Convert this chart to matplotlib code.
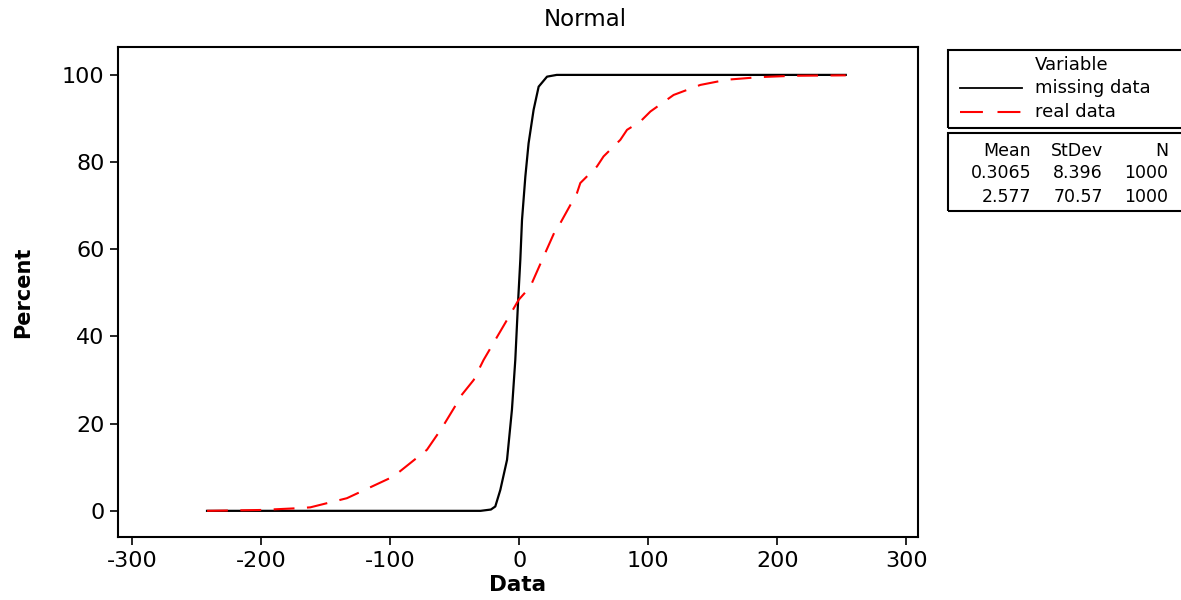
import matplotlib
matplotlib.use("Agg")
import matplotlib.pyplot as plt
from matplotlib.patches import Rectangle
from matplotlib.lines import Line2D

plt.rcParams["axes.unicode_minus"] = False

miss_x = [-242, -30, -22, -18.6, -14.7, -9.5, -5.7, -3.1, -1.0, 0.8, 2.1, 4.7,
          7.2, 11.1, 15.0, 21.5, 29.0, 60.0, 253]
miss_p = [0, 0, 0.3, 1.0, 4.8, 11.7, 23.2, 34.6, 47.6, 57.6, 66.7, 76.7,
          84.3, 92.0, 97.3, 99.6, 100, 100, 100]

real_x = [-242, -200, -172, -162, -133.6, -97.4, -71.6, -60.0, -48.3, -45.7,
          -35.4, -27.7, -9.5, -0.5, 8.5, 18.8, 29.2, 31.8, 44.7, 47.3, 60.2,
          65.3, 78.3, 83.5, 93.8, 101.6, 119.6, 140.3, 161, 186.8, 212.6, 253]
real_p = [0, 0.2, 0.6, 0.8, 2.9, 7.9, 14.0, 19.0, 24.7, 26.2,
          30.0, 34.6, 43.8, 48.4, 51.4, 58.3, 65.2, 66.0, 72.9, 75.2, 79.0,
          81.3, 85.1, 87.4, 89.3, 91.6, 95.4, 97.7, 98.9, 99.5, 99.8, 99.9]

series_names = ["missing data", "real data"]
stat_headers = ["Mean", "StDev", "N"]
stat_rows = [["0.3065", "8.396", "1000"], ["2.577", "70.57", "1000"]]
x_ticks = [-300, -200, -100, 0, 100, 200, 300]
y_ticks = [0, 20, 40, 60, 80, 100]

W, H = 1181, 600
fig = plt.figure(figsize=(W / 100, H / 100), dpi=100)
ax = fig.add_axes([118 / W, 1 - 537 / H, 800 / W, 490 / H])

ax.plot(real_x, real_p, color="#ff0000", lw=1.5, dashes=(10, 6), zorder=3)
ax.plot(miss_x, miss_p, color="black", lw=1.6, zorder=2)

ax.set_xlim(-311, 309)
ax.set_ylim(-6, 106.4)
ax.set_xticks(x_ticks)
ax.set_yticks(y_ticks)
ax.tick_params(direction="out", length=5.8, width=1.2, labelsize=16, pad=4)
for s in ax.spines.values():
    s.set_linewidth(1.5)
ax.set_xlabel("Data", fontsize=15.5, fontweight="bold", labelpad=3)
ax.set_ylabel("Percent", fontsize=15, fontweight="bold")
ax.yaxis.set_label_coords(-0.106, 0.5)
fig.text(585 / W, 1 - 19 / H, "Normal", ha="center", va="center", fontsize=16.5)

def fx(px):
    return px / W

def fy(py):
    return 1 - py / H

# Legend boxes
fig.patches.append(Rectangle((fx(948), fy(128)), fx(1190 - 948), (128 - 50) / H,
                             transform=fig.transFigure, fill=False, lw=1.5,
                             edgecolor="black"))
fig.patches.append(Rectangle((fx(948), fy(211)), fx(1190 - 948), (211 - 133) / H,
                             transform=fig.transFigure, fill=False, lw=1.5,
                             edgecolor="black"))
fig.text(fx(1035), fy(65), "Variable", ha="left", va="center", fontsize=13)
fig.lines.append(Line2D([fx(960), fx(1022)], [fy(88), fy(88)],
                        transform=fig.transFigure, color="black", lw=1.3))
fig.lines.append(Line2D([fx(960), fx(1022)], [fy(112), fy(112)],
                        transform=fig.transFigure, color="#ff0000", lw=1.5,
                        dashes=(11, 7)))
fig.text(fx(1035), fy(88), series_names[0], ha="left", va="center", fontsize=13)
fig.text(fx(1035), fy(112), series_names[1], ha="left", va="center", fontsize=13)

col_right = [1031, 1103, 1168]
for c, h in zip(col_right, stat_headers):
    fig.text(fx(c), fy(151), h, ha="right", va="center", fontsize=12.5)
for r, row in enumerate(stat_rows):
    for c, v in zip(col_right, row):
        fig.text(fx(c), fy(173 + 24 * r), v, ha="right", va="center", fontsize=12.5)

fig.savefig("out.png", dpi=100)
